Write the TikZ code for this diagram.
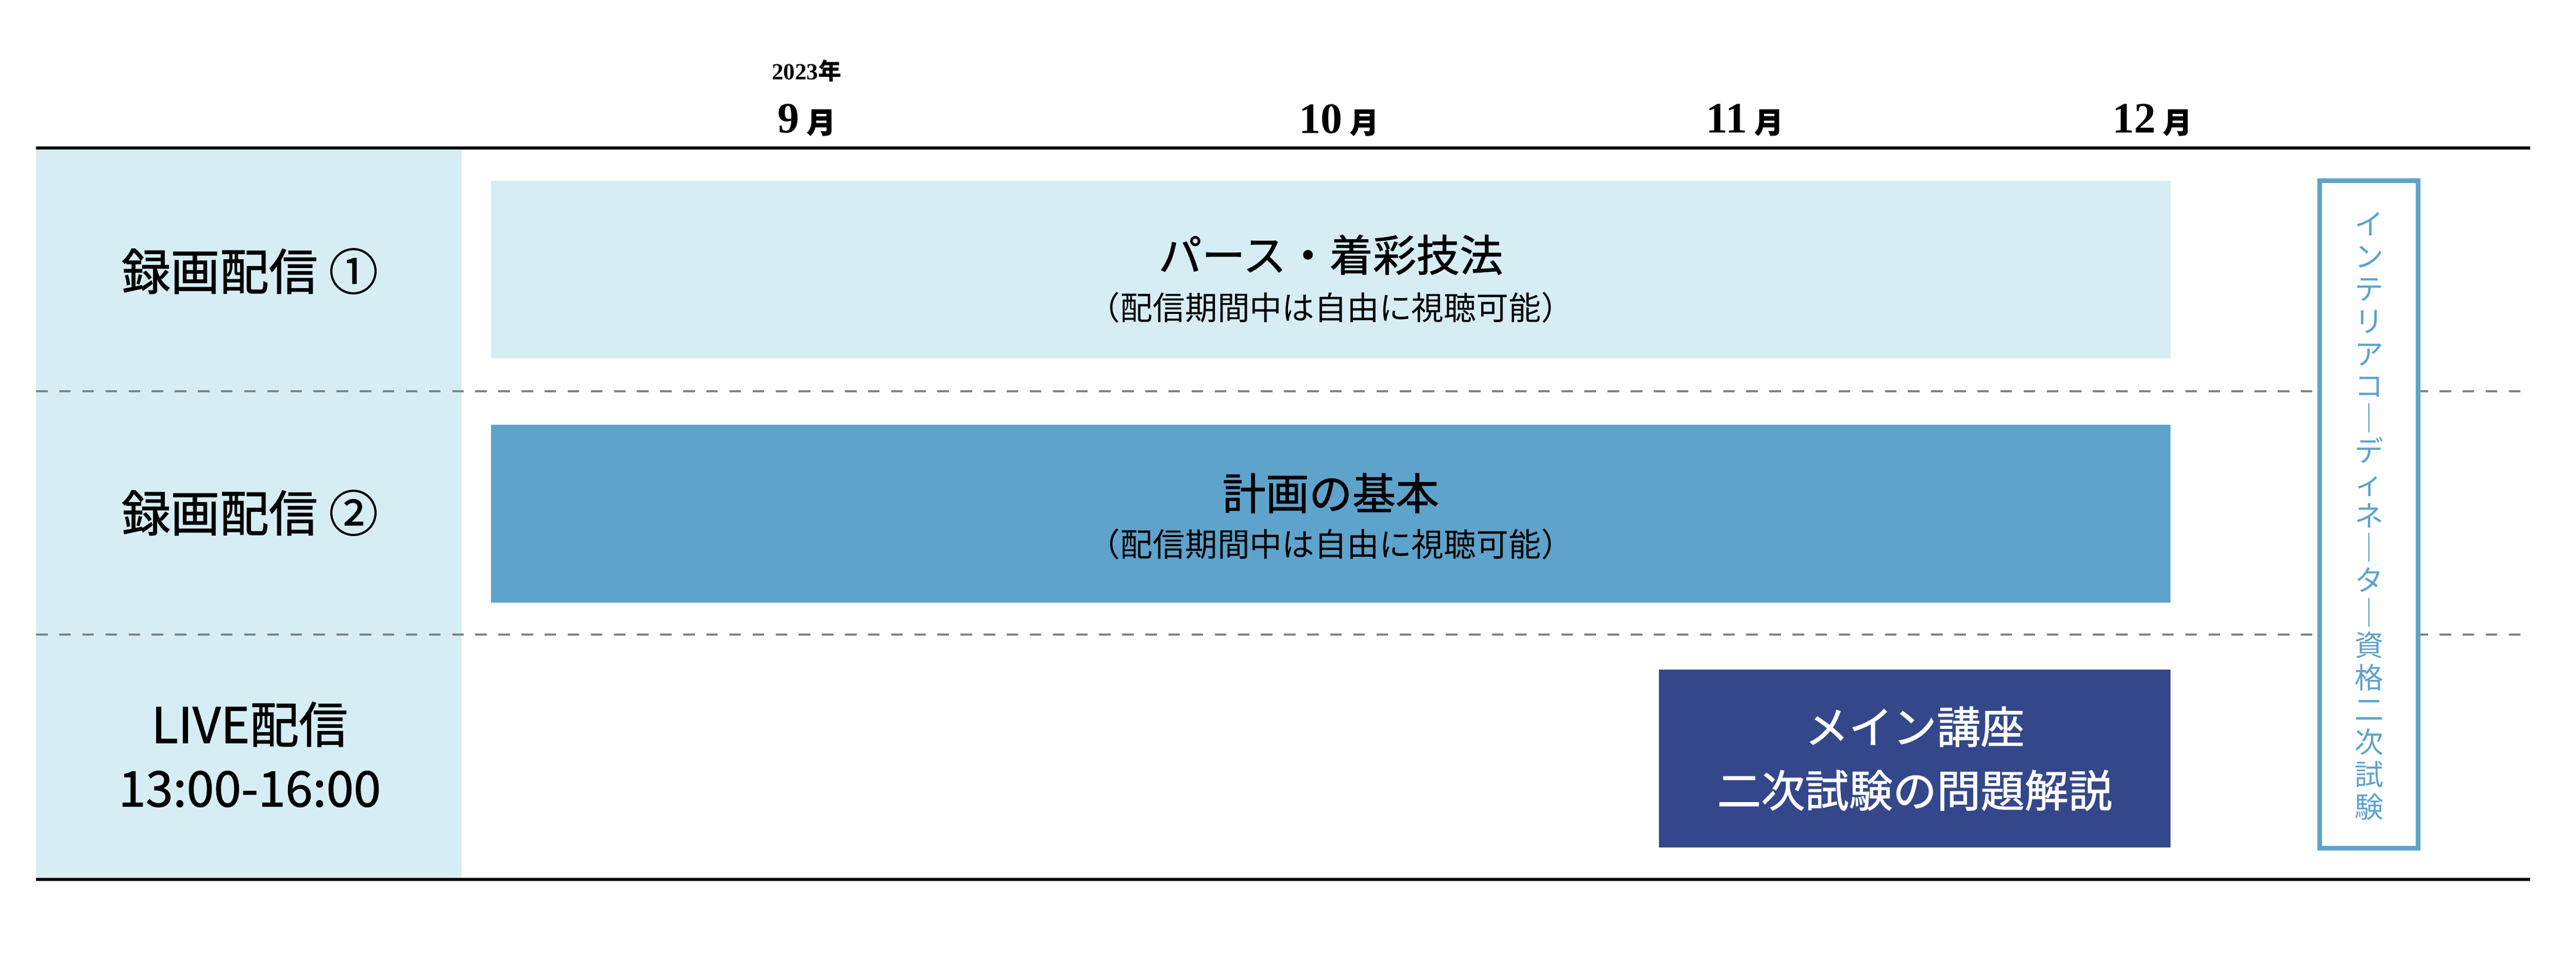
\documentclass[tikz,border=0pt]{standalone}
\usepackage{fontspec}
\setmainfont{Noto Sans CJK JP}
\newfontfamily\medfont{Noto Sans CJK JP}[FakeBold=1.2]
\newfontfamily\numfont{Liberation Serif}
\definecolor{paleblue}{HTML}{D6EDF4}
\definecolor{midblue}{HTML}{5EA3CB}
\definecolor{navyblue}{HTML}{34478A}
\begin{document}
\begin{tikzpicture}[x = 0.01cm, y = -0.01cm, font = \medfont\fontsize{7.5pt}{9pt}\selectfont,
	bar/.style = {minimum width = 10.22cm, minimum height = 1.08cm, inner sep = 0pt, align = center},
	month/.style = {font = \numfont\bfseries\fontsize{7.5pt}{8pt}\selectfont},
	rowlabel/.style = {font = \medfont\fontsize{8.5pt}{11pt}\selectfont, align = center},
	sub/.style = {font = \rmfamily\fontsize{5.6pt}{7pt}\selectfont}]

	\useasboundingbox (0, 0) rectangle (1568, 587);

	% left column and rules
	\fill [paleblue] (22, 90) rectangle (281, 535);
	\draw [line width = 0.6pt] (22, 90) -- (1540, 90);
	\draw [line width = 0.6pt] (22, 535) -- (1540, 535);
	\foreach \y in {238, 386}
		\draw [dash pattern = on 2pt off 2pt, gray, line width = 0.3pt] (22, \y) -- (1540, \y);

	% header
	\node [font = \numfont\bfseries\fontsize{4pt}{5pt}\selectfont] (year) at (491, 43) {2023{\rmfamily 年}};
	\foreach \x/\m in {491/9, 815/10, 1062/11, 1310/12}
		\node [month] (m\m) at (\x, 73) {\m\,{\medfont\fontsize{5pt}{6pt}\selectfont 月}};

	% row labels
	\node [rowlabel] (rowa) at (152, 165) {録画配信 ①};
	\node [rowlabel] (rowb) at (152, 312) {録画配信 ②};
	\node [rowlabel] (rowc) at (152, 459) {LIVE配信\\13:00-16:00};

	% bars
	\node [bar, fill = paleblue] (pers) at (810, 164) {};
	\node at (810, 155) {パース・着彩技法};
	\node [sub] at (810, 187) {（配信期間中は自由に視聴可能）};

	\node [bar, fill = midblue] (plan) at (810, 312.5) {};
	\node at (810, 300) {計画の基本};
	\node [sub] at (810, 331) {（配信期間中は自由に視聴可能）};

	\node [bar, fill = navyblue, minimum width = 3.11cm, text = white,
		font = \medfont\fontsize{7.6pt}{11pt}\selectfont] (main) at (1165.5, 461.5) {メイン講座\\二次試験の問題解説};

	% exam box
	\node [draw = midblue, line width = 0.8pt, fill = white, minimum width = 0.6cm,
		minimum height = 4.06cm, inner sep = 0pt] (exam) at (1442, 313) {};
	\node [text = midblue, align = center, font = \rmfamily\fontsize{5pt}{5.6pt}\selectfont] at (1442, 314)
		{イ\\ン\\テ\\リ\\ア\\コ\\｜\\デ\\ィ\\ネ\\｜\\タ\\｜\\資\\格\\二\\次\\試\\験};

\end{tikzpicture}
\end{document}
